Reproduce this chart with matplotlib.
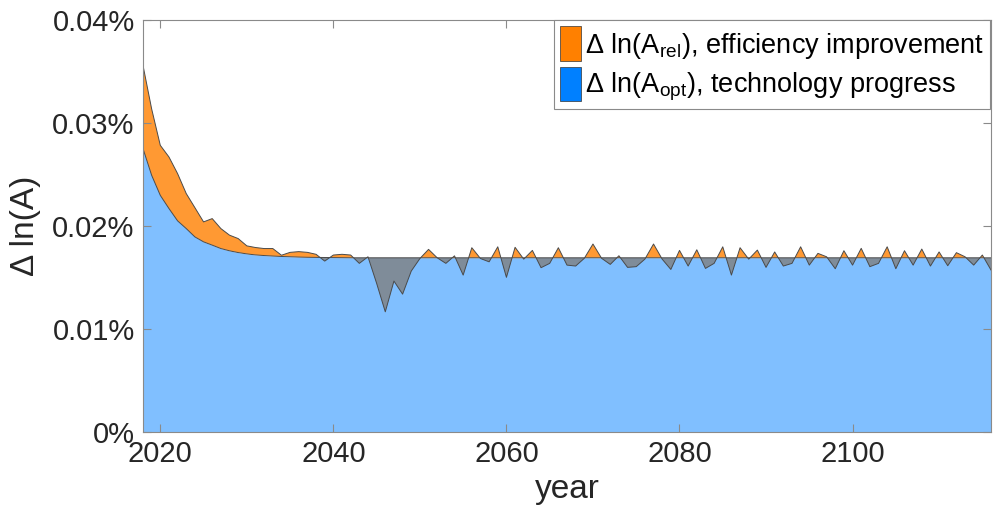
import numpy as np
import matplotlib
matplotlib.use('Agg')
import matplotlib.pyplot as plt
from matplotlib.patches import Patch
from matplotlib.ticker import FuncFormatter, MultipleLocator

plt.rcParams['font.family'] = ['Liberation Sans', 'DejaVu Sans']
plt.rcParams['mathtext.fontset'] = 'custom'
plt.rcParams['mathtext.rm'] = 'Liberation Sans'
plt.rcParams['mathtext.it'] = 'Liberation Sans:italic'

years = np.arange(2018, 2117)

# growth of ln(A_opt), in percent
d_ln_a_opt = [
    0.02755, 0.02495, 0.02300, 0.02172, 0.02052, 0.01977, 0.01896, 0.01848, 0.01816, 0.01783,  # 2018
    0.01761, 0.01744, 0.01731, 0.01721, 0.01715, 0.01710, 0.01706, 0.01703, 0.01700, 0.01698,  # 2028
    0.01697, 0.01696, 0.01695, 0.01694, 0.01693, 0.01693, 0.01693, 0.01693, 0.01693, 0.01693,  # 2038
    0.01693, 0.01693, 0.01693, 0.01693, 0.01693, 0.01693, 0.01693, 0.01693, 0.01693, 0.01693,  # 2048
    0.01693, 0.01693, 0.01693, 0.01693, 0.01693, 0.01693, 0.01693, 0.01693, 0.01693, 0.01693,  # 2058
    0.01693, 0.01693, 0.01693, 0.01693, 0.01693, 0.01693, 0.01693, 0.01693, 0.01693, 0.01693,  # 2068
    0.01693, 0.01693, 0.01693, 0.01693, 0.01693, 0.01693, 0.01693, 0.01693, 0.01693, 0.01693,  # 2078
    0.01693, 0.01693, 0.01693, 0.01693, 0.01693, 0.01693, 0.01693, 0.01693, 0.01693, 0.01693,  # 2088
    0.01693, 0.01693, 0.01693, 0.01693, 0.01693, 0.01693, 0.01693, 0.01693, 0.01693, 0.01693,  # 2098
    0.01693, 0.01693, 0.01693, 0.01693, 0.01693, 0.01693, 0.01693, 0.01693, 0.01693,           # 2108
]

# total growth of ln(A) = ln(A_opt) + ln(A_rel), in percent
d_ln_a = [
    0.03563, 0.03140, 0.02786, 0.02673, 0.02511, 0.02317, 0.02180, 0.02042, 0.02074, 0.01977,  # 2018
    0.01913, 0.01880, 0.01809, 0.01793, 0.01783, 0.01783, 0.01718, 0.01746, 0.01753, 0.01746,  # 2028
    0.01727, 0.01661, 0.01720, 0.01727, 0.01720, 0.01639, 0.01703, 0.01445, 0.01168, 0.01467,  # 2038
    0.01340, 0.01564, 0.01686, 0.01775, 0.01693, 0.01639, 0.01712, 0.01525, 0.01791, 0.01686,  # 2048
    0.01654, 0.01800, 0.01503, 0.01795, 0.01680, 0.01765, 0.01597, 0.01639, 0.01791, 0.01622,  # 2058
    0.01613, 0.01688, 0.01827, 0.01688, 0.01629, 0.01713, 0.01600, 0.01607, 0.01680, 0.01827,  # 2068
    0.01680, 0.01580, 0.01765, 0.01613, 0.01771, 0.01590, 0.01639, 0.01800, 0.01525, 0.01791,  # 2078
    0.01680, 0.01768, 0.01600, 0.01750, 0.01613, 0.01639, 0.01800, 0.01622, 0.01736, 0.01703,  # 2088
    0.01587, 0.01762, 0.01622, 0.01785, 0.01607, 0.01639, 0.01800, 0.01587, 0.01762, 0.01622,  # 2098
    0.01778, 0.01613, 0.01750, 0.01616, 0.01743, 0.01703, 0.01622, 0.01720, 0.01574,           # 2108
]

legend_labels = [r'Δ ln(A$_{\rm rel}$), efficiency improvement',
                 r'Δ ln(A$_{\rm opt}$), technology progress']

opt = np.array(d_ln_a_opt)
tot = np.array(d_ln_a)

fig = plt.figure(figsize=(9.93, 5.21), dpi=100)
ax = fig.add_axes([0.144, 0.1708, 0.854, 0.79])

edge = '#4a4a4a'
ax.fill_between(years, 0, opt, color='#80BFFF', lw=0)
ax.fill_between(years, opt, tot, where=tot >= opt, interpolate=True, color='#FF9933', lw=0)
ax.fill_between(years, opt, tot, where=tot < opt, interpolate=True, color='#7F8C99', lw=0)
ax.plot(years, tot, color=edge, lw=0.7)
ax.plot(years, opt, color=edge, lw=0.7)

ax.set_xlim(2018, 2116)
ax.set_ylim(0, 0.04)
ax.xaxis.set_major_locator(MultipleLocator(20))
ax.yaxis.set_major_locator(MultipleLocator(0.01))
ax.yaxis.set_major_formatter(FuncFormatter(lambda v, p: f'{round(v, 2):g}%'))

for s in ax.spines.values():
    s.set_color('#8a8a8a')
    s.set_linewidth(0.8)
ax.tick_params(direction='in', length=6, width=0.8, color='#8a8a8a',
               labelsize=21, labelcolor='#262626', top=True, right=True, pad=6)

ax.set_xlabel('year', fontsize=24, color='#262626', labelpad=4)
ax.set_ylabel('Δ ln(A)', fontsize=24, color='#262626', labelpad=8)

handles = [Patch(facecolor='#FF8000', edgecolor='#333333', lw=0.5),
           Patch(facecolor='#0080FF', edgecolor='#333333', lw=0.5)]
leg = ax.legend(handles, legend_labels, loc='upper right', bbox_to_anchor=(0.999, 1.0),
                fontsize=19.5, frameon=True, fancybox=False, framealpha=1,
                edgecolor='#8a8a8a', borderaxespad=0, borderpad=0.22,
                handlelength=0.78, handleheight=1.6, handletextpad=0.15,
                labelspacing=0.2)
leg.get_frame().set_linewidth(0.8)

fig.savefig('out.png', dpi=100)
